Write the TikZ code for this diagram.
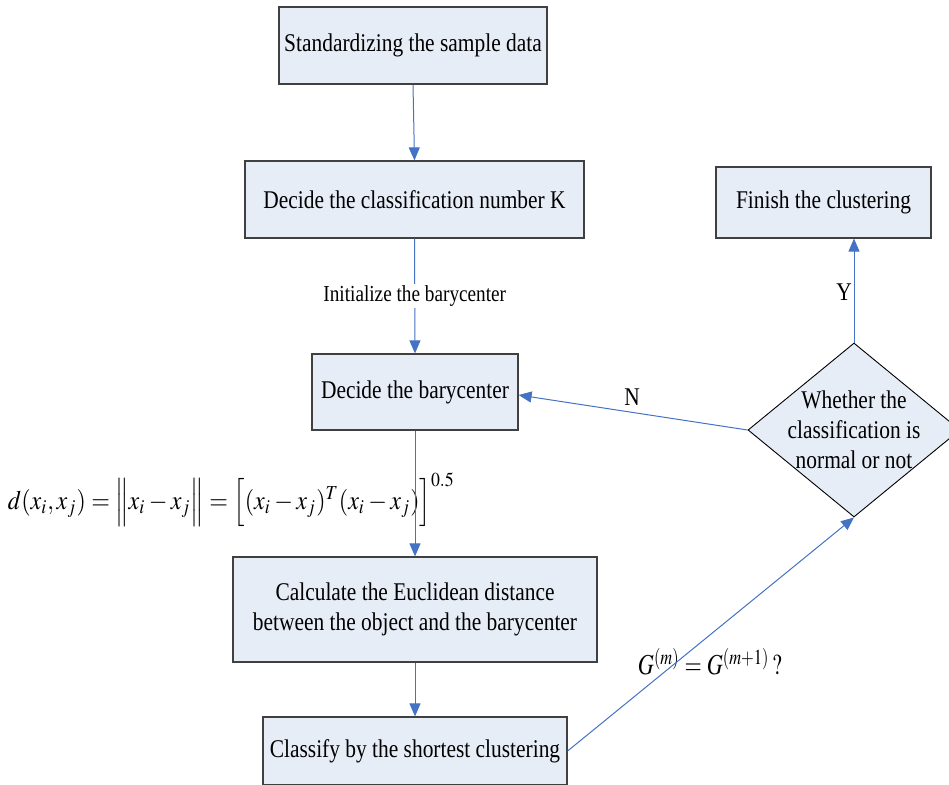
\documentclass[tikz,border=0pt]{standalone}
\usepackage{mathptmx}
\usepackage[no-math]{fontspec}
\setmainfont{Liberation Serif}[FakeStretch=0.84]
\usepackage{graphicx}
\usetikzlibrary{arrows.meta,shapes.geometric,calc}
\definecolor{boxfill}{RGB}{231,237,247}
\definecolor{boxline}{RGB}{64,64,64}
\definecolor{arrowblue}{RGB}{68,114,196}
\newcommand\mainsize{\fontsize{25.5}{30}\selectfont}
\newcommand\lblsize{\fontsize{22.9}{27}\selectfont}
\tikzset{
  procbox/.style 2 args={draw=boxline, line width=1.2pt, fill=boxfill, rectangle,
    minimum width=#1, minimum height=#2, inner sep=0pt, align=center, font=\mainsize},
  decbox/.style={draw=black, line width=0.9pt, fill=boxfill, diamond,
    minimum width=212pt, minimum height=174pt, inner sep=0pt},
  arr/.style={draw=arrowblue, line width=1pt, -{Triangle[length=13pt,width=11pt]}},
  lbl/.style={fill=white, inner sep=2pt, font=\lblsize},
  yn/.style={fill=white, inner sep=1pt, font=\mainsize},
  plain/.style={inner sep=0pt, font=\mainsize, align=center}
}
\begin{document}
\begin{tikzpicture}[x=1pt,y=-1pt]
\useasboundingbox (0,0) rectangle (949,784);
\clip (0,0) rectangle (949,784);

\node[procbox={268pt}{77pt}] (std) at (413,45.5) {Standardizing the sample data};
\node[procbox={339pt}{77pt}] (deck) at (414.5,199.5) {Decide the classification number K};
\node[procbox={215pt}{71pt}] (fin) at (823.5,202.5) {Finish the clustering};
\node[procbox={206pt}{76pt}] (bary) at (415,392) {Decide the barycenter};
\node[procbox={364pt}{105pt}] (calc) at (415,609.5) {Calculate the Euclidean distance\\between the object and the barycenter};
\node[procbox={304pt}{68pt}] (cls) at (415,751) {Classify by the shortest clustering};
\node[decbox] (dec) at (854,430) {};
\node[plain] (dectext) at (dec.center) {Whether the\\classification is\\normal or not};

\node[inner sep=0pt] (formula) at (231.5,500) {\resizebox*{447pt}{54pt}{$d(x_i,x_j)=\Big\|x_i-x_j\Big\|=\Big[(x_i-x_j)^T(x_i-x_j)\Big]^{0.5}$}};
\node[inner sep=0pt] (gform) at (710,661.5) {\resizebox*{144pt}{27pt}{$G^{(m)}=G^{(m+1)}\,?$}};

\draw[arr] (std.south) -- (deck.north);
\draw[arr] (deck.south) -- node[lbl] (init) {Initialize the barycenter} (bary.north);
\draw[arr] (bary.south) -- (calc.north);
\draw[arr] (calc.south) -- (cls.north);
\draw[arr] (dec.west) -- ($(bary.east)+(0,3)$);
\node[yn] (nlab) at (632,397) {N};
\draw[arr] (dec.north) -- (dec.north |- fin.south);
\node[inner sep=0pt, font=\mainsize] (ylab) at (844,292) {Y};
\draw[arr] (cls.east) -- (dec.south);
\end{tikzpicture}
\end{document}
